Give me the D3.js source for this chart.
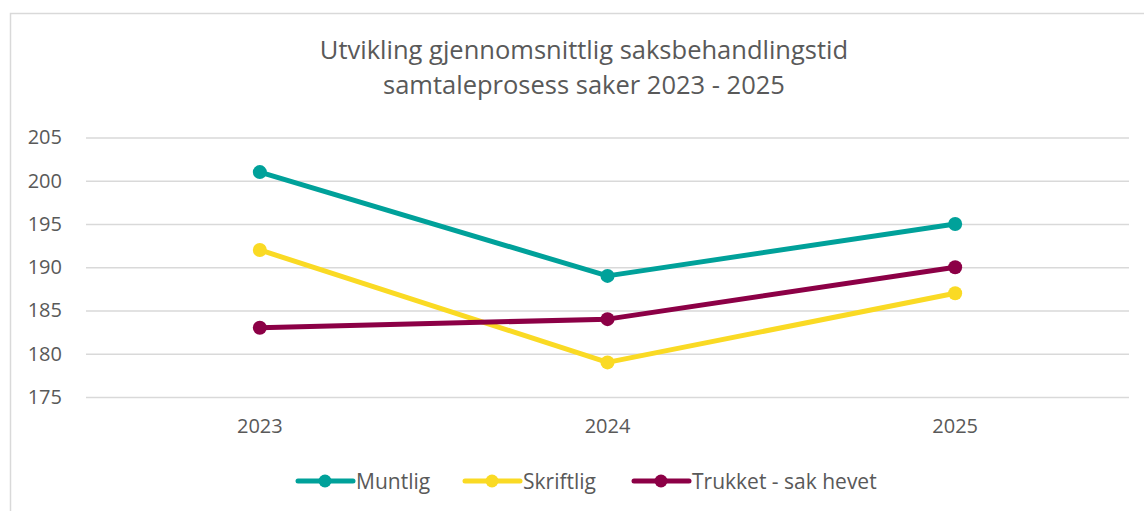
<!DOCTYPE html>
<html>
<head>
<meta charset="utf-8">
<script src="https://cdn.jsdelivr.net/npm/d3@7"></script>
<style>
  body { margin: 0; background: #fff; }
  text { font-family: 'Open Sans', sans-serif; fill: #595959; }
</style>
</head>
<body>
<svg id="chart" width="1144" height="511"></svg>
<script>
var years = [ '2023', '2024', '2025' ];
var seriesNames = [ 'Muntlig', 'Skriftlig', 'Trukket - sak hevet' ];
var muntlig = [ 201, 189, 195 ];
var skriftlig = [ 192, 179, 187 ];
var trukket = [ 183, 184, 190 ];
var yTicks = [ 175, 180, 185, 190, 195, 200, 205 ];
var colors = [ '#00A19A', '#FADA24', '#8C0046' ];

var svg = d3.select( '#chart' ),
  margin = { top: 137.5, right: 15, bottom: 114, left: 86 },
  width = +svg.attr( 'width' ),
  height = +svg.attr( 'height' );

var series = seriesNames.map( ( name, i ) => ( {
  name: name,
  values: [ muntlig, skriftlig, trukket ][ i ].map( ( v, j ) => ( { year: years[ j ], value: v } ) )
} ) );

// chart frame
svg.append( 'rect' )
  .attr( 'x', 10.5 ).attr( 'y', 13.5 )
  .attr( 'width', width ).attr( 'height', height )
  .attr( 'fill', 'none' )
  .attr( 'stroke', '#d9d9d9' )
  .attr( 'stroke-width', 1.5 );

var x = d3.scaleBand()
  .domain( years )
  .range( [ margin.left, width - margin.right ] );

var y = d3.scaleLinear()
  .domain( [ 175, 205 ] )
  .range( [ height - margin.bottom, margin.top ] );

// title
svg.append( 'text' )
  .attr( 'x', 584 ).attr( 'y', 59 )
  .attr( 'text-anchor', 'middle' )
  .style( 'font-size', '25.5px' )
  .text( 'Utvikling gjennomsnittlig saksbehandlingstid' );

svg.append( 'text' )
  .attr( 'x', 584 ).attr( 'y', 94 )
  .attr( 'text-anchor', 'middle' )
  .style( 'font-size', '25.5px' )
  .text( 'samtaleprosess saker 2023 - 2025' );

// gridlines + y labels
svg.append( 'g' )
  .attr( 'transform', 'translate(' + margin.left + ',0)' )
  .call( d3.axisLeft( y ).tickValues( yTicks ).tickSize( -( width - margin.left - margin.right ) ).tickPadding( 24 ) )
  .call( g => g.select( '.domain' ).remove() )
  .call( g => g.selectAll( '.tick line' ).attr( 'stroke', '#d9d9d9' ).attr( 'stroke-width', 1.5 ) )
  .call( g => g.selectAll( '.tick text' ).style( 'font-size', '20px' ).attr( 'fill', '#595959' ) );

// x labels
svg.append( 'g' )
  .attr( 'transform', 'translate(0,' + ( height - margin.bottom ) + ')' )
  .call( d3.axisBottom( x ).tickSize( 0 ).tickPadding( 22 ) )
  .call( g => g.select( '.domain' ).remove() )
  .call( g => g.selectAll( '.tick text' ).style( 'font-size', '20px' ).attr( 'fill', '#595959' ) );

var line = d3.line()
  .x( d => x( d.year ) + x.bandwidth() / 2 )
  .y( d => y( d.value ) );

var s = svg.selectAll( '.series' )
  .data( series )
  .enter().append( 'g' )
    .attr( 'class', 'series' );

s.append( 'path' )
  .attr( 'd', d => line( d.values ) )
  .attr( 'fill', 'none' )
  .attr( 'stroke', ( d, i ) => colors[ i ] )
  .attr( 'stroke-width', 5 )
  .attr( 'stroke-linejoin', 'round' );

s.selectAll( 'circle' )
  .data( ( d, i ) => d.values.map( v => ( { v: v, c: colors[ i ] } ) ) )
  .enter().append( 'circle' )
    .attr( 'cx', d => x( d.v.year ) + x.bandwidth() / 2 )
    .attr( 'cy', d => y( d.v.value ) )
    .attr( 'r', 7 )
    .attr( 'fill', d => d.c );

/* Legend */

var legendX = [ 298, 465, 634 ];

var legends = svg.append( 'g' )
  .selectAll( 'g' )
  .data( seriesNames )
  .enter().append( 'g' )
    .attr( 'transform', ( d, i ) => 'translate(' + legendX[ i ] + ',481)' );

legends.append( 'line' )
  .attr( 'x1', 0 ).attr( 'x2', 55 )
  .attr( 'stroke', ( d, i ) => colors[ i ] )
  .attr( 'stroke-width', 5 )
  .attr( 'stroke-linecap', 'round' );

legends.append( 'circle' )
  .attr( 'cx', 27 )
  .attr( 'r', 6.5 )
  .attr( 'fill', ( d, i ) => colors[ i ] );

legends.append( 'text' )
  .attr( 'x', 58 )
  .attr( 'y', 7.5 )
  .style( 'font-size', '21px' )
  .text( d => d );
</script>
</body>
</html>
